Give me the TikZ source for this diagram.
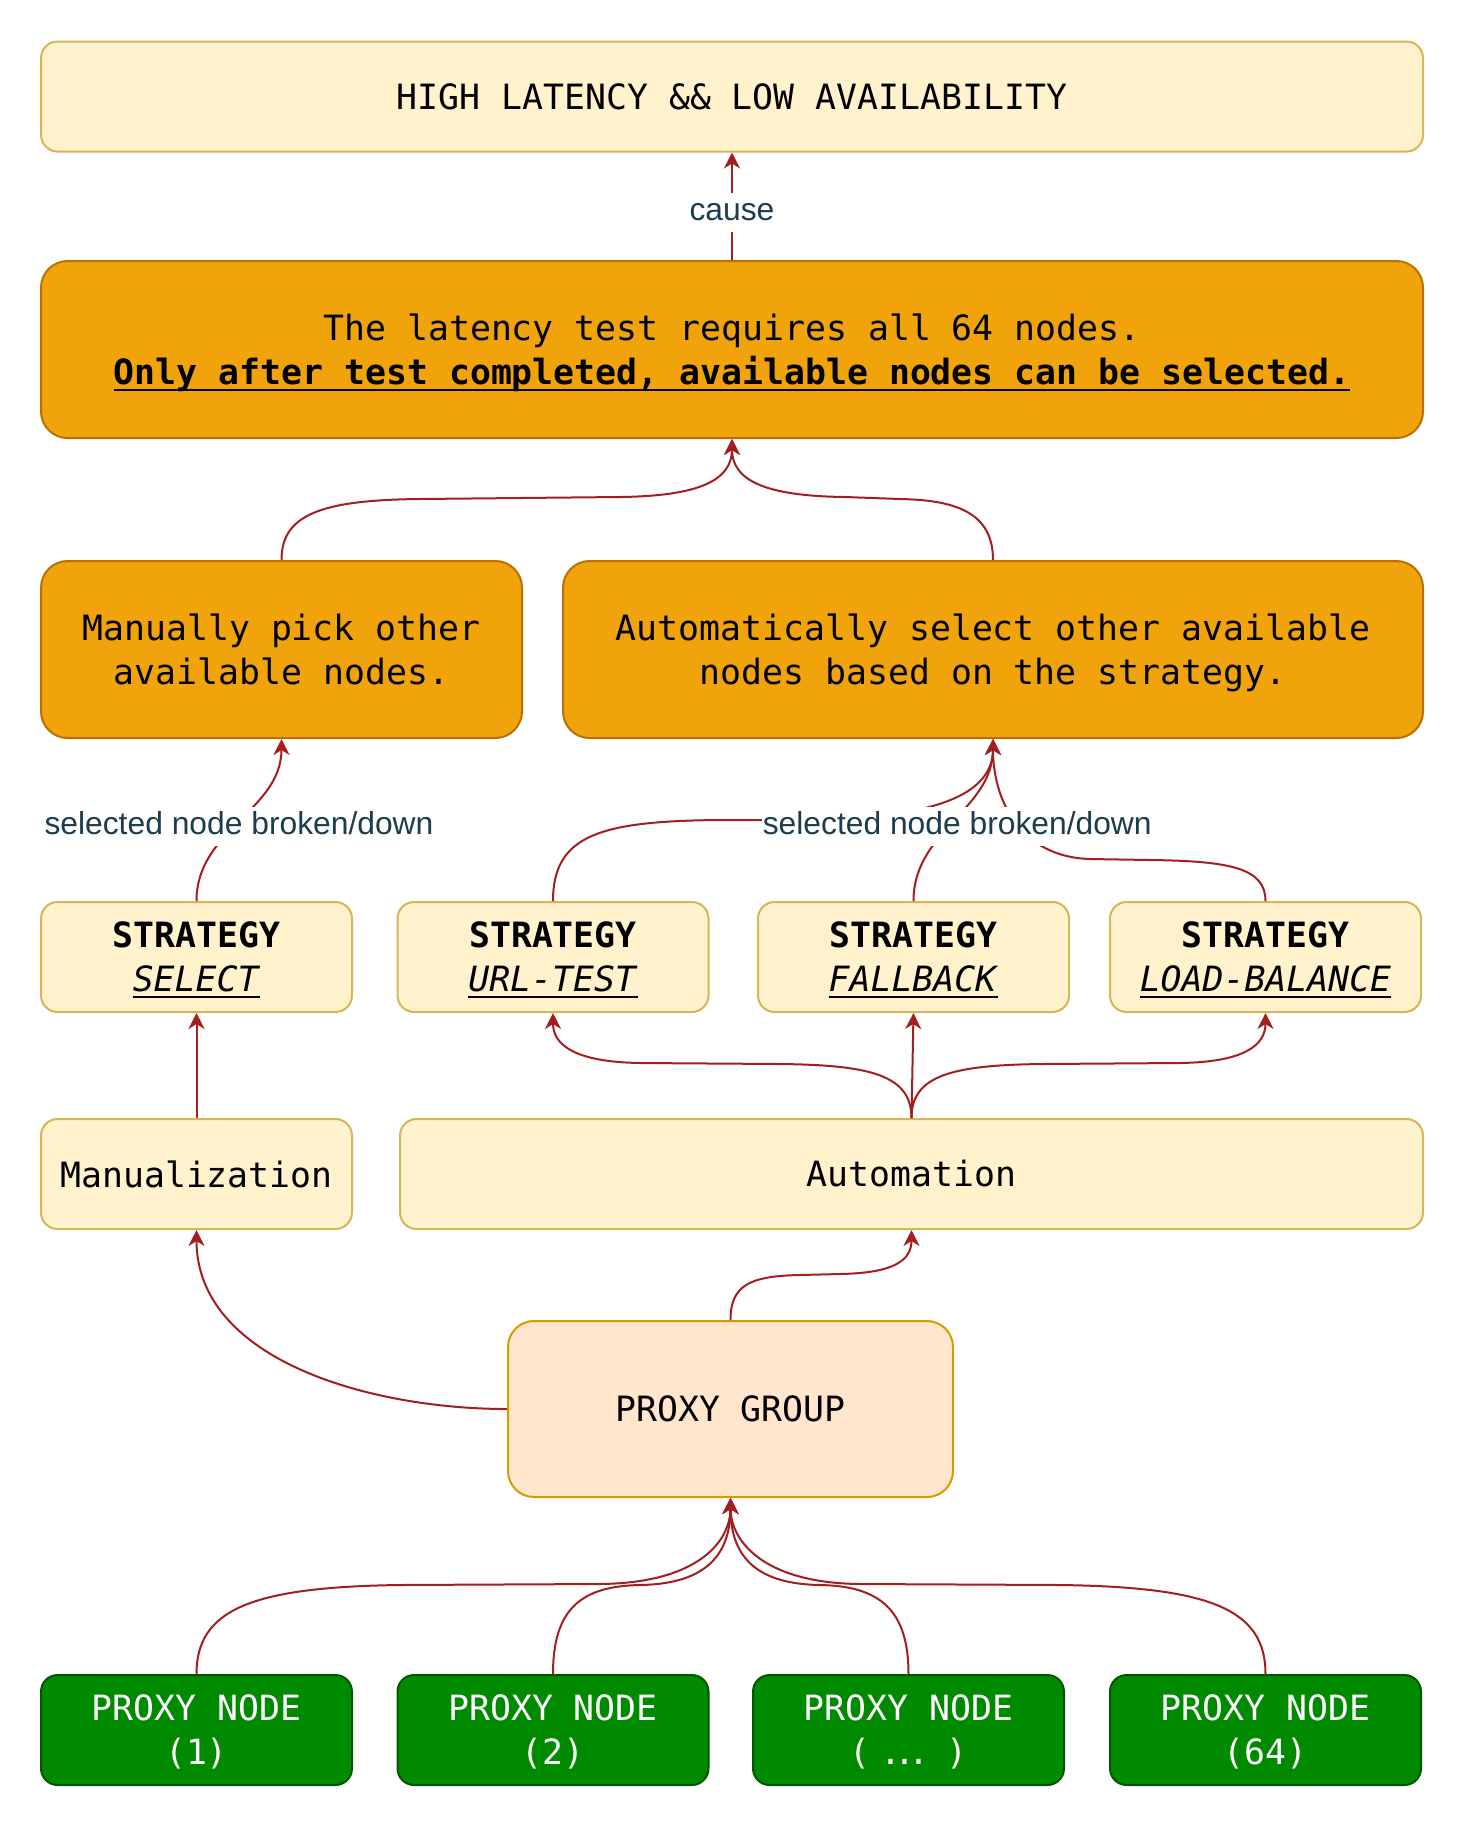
\documentclass[tikz,border=0pt]{standalone}
\usepackage{fontspec}
\usetikzlibrary{arrows.meta}
\newfontfamily\monof{DejaVu Sans Mono}
\newfontfamily\labf{Liberation Sans}
\definecolor{yfill}{HTML}{FFF2CC}
\definecolor{ydraw}{HTML}{D6B656}
\definecolor{ofill}{HTML}{F0A30A}
\definecolor{odraw}{HTML}{BD7000}
\definecolor{pfill}{HTML}{FFE6CC}
\definecolor{pdraw}{HTML}{D79B00}
\definecolor{gfill}{HTML}{008A00}
\definecolor{gdraw}{HTML}{005700}
\definecolor{arrc}{HTML}{A31F1F}
\definecolor{labc}{HTML}{1B3D4E}
\newsavebox\myulbox
\newcommand\myul[1]{\sbox\myulbox{#1}\rlap{\smash{\rule[-3pt]{\wd\myulbox}{1pt}}}\usebox\myulbox}
\newcommand\mydots{\kern-5.2pt.\kern-3.7pt.\kern-3.7pt.\kern-5.2pt}
\tikzset{
  box/.style={draw, line width=1pt, inner sep=0pt, align=center,
    font=\monof\fontsize{17.4}{22}\selectfont, text=black},
  ybox/.style={box, fill=yfill, draw=ydraw, rounded corners=8.3pt, minimum height=55pt},
  obox/.style={box, fill=ofill, draw=odraw, rounded corners=13.3pt, minimum height=88.5pt},
  pbox/.style={box, fill=pfill, draw=pdraw, rounded corners=13pt, minimum height=88pt},
  gbox/.style={box, fill=gfill, draw=gdraw, rounded corners=8.3pt, minimum height=55pt, text=white},
  conn/.style={draw=arrc, line width=1pt, -{Stealth[length=8pt,width=8pt,inset=2.5pt]}},
  lab/.style={fill=white, text=labc, font=\labf\fontsize{15.9}{18}\selectfont,
    inner xsep=0.5pt, inner ysep=2pt, text height=12pt, text depth=3.5pt, yshift=-3pt}
}
\begin{document}
\begin{tikzpicture}[x=0.5pt,y=-0.5pt]
\fill[white] (0,0) rectangle (1464,1828);
\useasboundingbox (0,0) rectangle (1464,1828);

\node[ybox, minimum width=691pt] (top) at (732,96.5) {HIGH LATENCY \&\& LOW AVAILABILITY};
\node[obox, minimum width=691pt] (test) at (732,349.5) {The latency test requires all 64 nodes.\\\smash{\textbf{\myul{Only after test completed, available nodes can be selected.}}}};
\node[obox, minimum width=240.5pt] (manual) at (281.5,649.5) {Manually pick other\\available nodes.};
\node[obox, minimum width=430pt] (auto) at (993,649.5) {Automatically select other available\\\smash{nodes based on the strategy.}};

\node[ybox, minimum width=155.5pt] (sselect) at (196.5,957) {\textbf{STRATEGY}\\\myul{\textit{SELECT}}};
\node[ybox, minimum width=155.5pt] (urltest) at (553,957) {\textbf{STRATEGY}\\\myul{\textit{URL-TEST}}};
\node[ybox, minimum width=155.5pt] (fallback) at (913.5,957) {\textbf{STRATEGY}\\\myul{\textit{FALLBACK}}};
\node[ybox, minimum width=155.5pt] (loadbal) at (1265.5,957) {\textbf{STRATEGY}\\\myul{\textit{LOAD-BALANCE}}};

\node[ybox, minimum width=155.5pt] (manz) at (196.5,1174) {Manualization};
\node[ybox, minimum width=511.5pt] (autom) at (911.5,1174) {Automation};

\node[pbox, minimum width=222.5pt] (pgroup) at (730.5,1409) {PROXY GROUP};

\node[gbox, minimum width=155.5pt] (pn1) at (196.5,1730) {PROXY NODE\\\smash{(1)}};
\node[gbox, minimum width=155.5pt] (pn2) at (553,1730) {PROXY NODE\\\smash{(2)}};
\node[gbox, minimum width=155.5pt] (pn3) at (908.5,1730) {PROXY NODE\\\smash{( \mydots{} )}};
\node[gbox, minimum width=155.5pt] (pn4) at (1265.5,1730) {PROXY NODE\\\smash{(64)}};

% connectors
\draw[conn] (test.north) -- node[lab]{cause} (top.south);
\draw[conn] (manual.north) .. controls (281.5,515) and (320,500) .. (420,499) -- (620,497) .. controls (700,496) and (732,480) .. (test.south);
\draw[conn] (auto.north) .. controls (993,515) and (960,500) .. (900,499) -- (845,497) .. controls (764,496) and (732,480) .. (test.south);

\draw[conn] (sselect.north) to[out=90,in=-90] node[lab]{selected node broken/down} (manual.south);
\draw[conn] (urltest.north) .. controls (553,835) and (600,821) .. (720,820) -- (800,820) .. controls (920,819) and (993,800) .. (auto.south);
\draw[conn] (loadbal.north) .. controls (1265.5,868) and (1230,861) .. (1150,860) -- (1090,859) .. controls (1020,857) and (993,800) .. (auto.south);
\draw[conn] (fallback.north) to[out=90,in=-90] node[lab, xshift=2pt]{selected node broken/down} (auto.south);

\draw[conn] (manz.north) -- (sselect.south);
\draw[conn] (autom.north) .. controls (911.5,1075) and (870,1065) .. (780,1064) -- (640,1063) .. controls (575,1062) and (553,1045) .. (urltest.south);
\draw[conn] (autom.north) -- (fallback.south);
\draw[conn] (autom.north) .. controls (911.5,1075) and (953,1065) .. (1043,1064) -- (1180,1063) .. controls (1245,1062) and (1265.5,1045) .. (loadbal.south);

\draw[conn] (pgroup.north) .. controls (730.5,1285) and (750,1276) .. (800,1275) -- (840,1274) .. controls (895,1273) and (911.5,1260) .. (autom.south);
\draw[conn] (pgroup.west) .. controls (370,1409) and (196.5,1360) .. (manz.south);

\draw[conn] (pn1.north) .. controls (196.5,1610) and (250,1587) .. (400,1585) -- (600,1584) .. controls (700,1583) and (730.5,1540) .. (pgroup.south);
\draw[conn] (pn2.north) .. controls (553,1610) and (580,1586) .. (640,1585) .. controls (700,1584) and (730.5,1560) .. (pgroup.south);
\draw[conn] (pn3.north) .. controls (908.5,1610) and (880,1586) .. (820,1585) .. controls (760,1584) and (730.5,1560) .. (pgroup.south);
\draw[conn] (pn4.north) .. controls (1265.5,1610) and (1212,1587) .. (1060,1585) -- (860,1584) .. controls (762,1583) and (730.5,1540) .. (pgroup.south);
\end{tikzpicture}
\end{document}
